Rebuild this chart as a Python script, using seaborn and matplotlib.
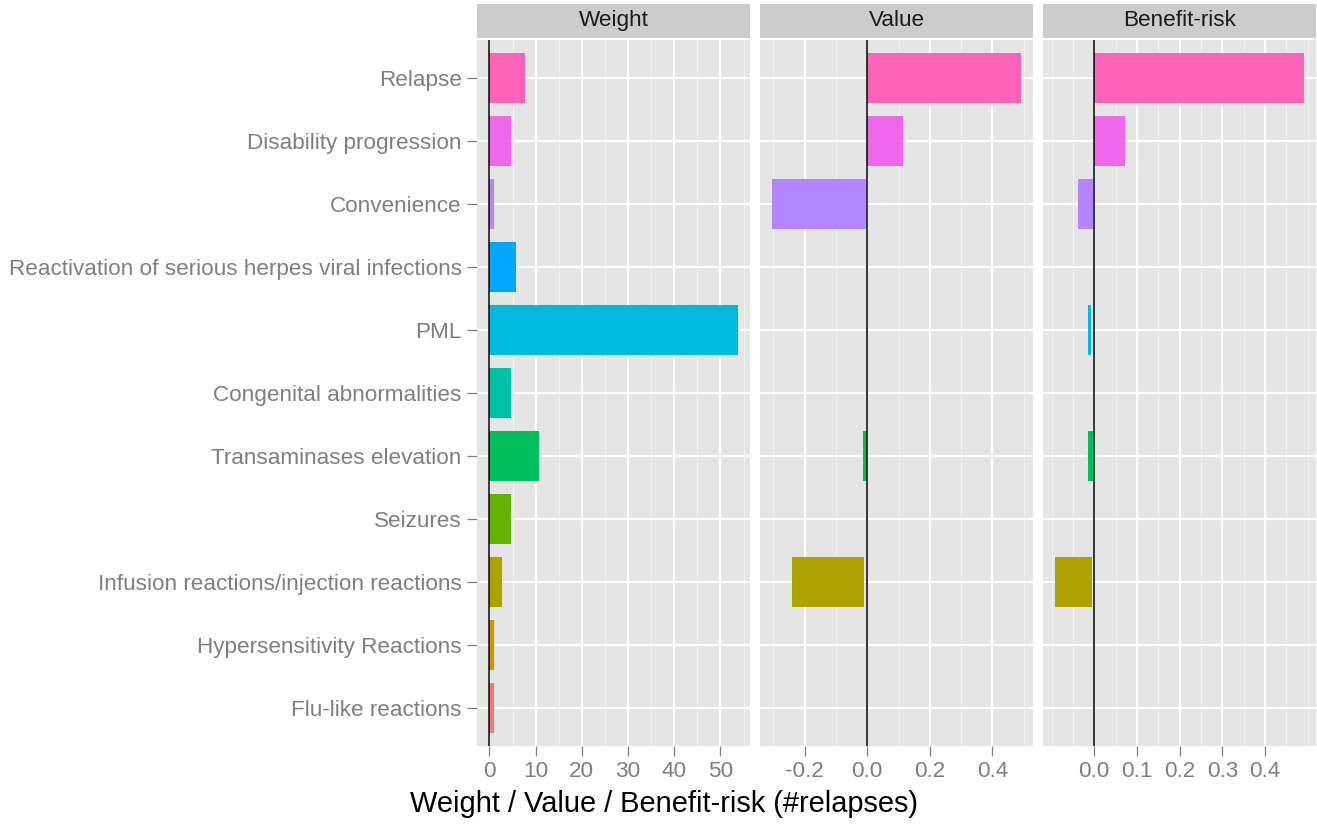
import matplotlib.pyplot as plt
import pandas as pd
import seaborn as sns
from matplotlib.patches import Rectangle

# Data (top row first)
criteria = ["Relapse", "Disability progression", "Convenience",
            "Reactivation of serious herpes viral infections", "PML",
            "Congenital abnormalities", "Transaminases elevation", "Seizures",
            "Infusion reactions/injection reactions", "Hypersensitivity Reactions",
            "Flu-like reactions"]
weight = [7.8, 4.7, 1.0, 5.8, 53.7, 4.7, 10.8, 4.7, 2.8, 1.0, 1.0]
value_start = [0, 0, -0.303, 0, 0, 0, -0.015, 0, -0.241, 0, 0]
value_end = [0.49, 0.113, -0.005, 0, 0, 0, -0.002, 0, -0.009, 0, 0]
br_start = [0, 0, -0.038, 0, -0.014, 0, -0.014, 0, -0.091, 0, 0]
br_end = [0.49, 0.072, -0.002, 0, -0.007, 0, -0.002, 0, -0.006, 0, 0]

panels = ["Weight", "Value", "Benefit-risk"]
colours = ["#FF63B6", "#EF67EB", "#B385FF", "#00A6FF", "#00BADE", "#00C1A7",
           "#00BD5C", "#64B200", "#AEA200", "#DB8E00", "#F8766D"]

major_ticks = {"Weight": [0, 10, 20, 30, 40, 50],
               "Value": [-0.2, 0.0, 0.2, 0.4],
               "Benefit-risk": [0.0, 0.1, 0.2, 0.3, 0.4]}
minor_ticks = {"Weight": [5, 15, 25, 35, 45, 55],
               "Value": [-0.3, -0.1, 0.1, 0.3, 0.5],
               "Benefit-risk": [-0.1, -0.05, 0.05, 0.15, 0.25, 0.35, 0.45, 0.5]}
tick_labels = {"Weight": ["0", "10", "20", "30", "40", "50"],
               "Value": ["-0.2", "0.0", "0.2", "0.4"],
               "Benefit-risk": ["0.0", "0.1", "0.2", "0.3", "0.4"]}

# long table for the facets
n = len(criteria)
pos = [n - 1 - i for i in range(n)]
df = pd.concat([
    pd.DataFrame({"panel": "Weight", "criterion": criteria, "pos": pos,
                  "start": [0] * n, "end": weight, "colour": colours}),
    pd.DataFrame({"panel": "Value", "criterion": criteria, "pos": pos,
                  "start": value_start, "end": value_end, "colour": colours}),
    pd.DataFrame({"panel": "Benefit-risk", "criterion": criteria, "pos": pos,
                  "start": br_start, "end": br_end, "colour": colours}),
])

sns.set_theme(style="darkgrid", rc={
    "axes.facecolor": "#E5E5E5",
    "axes.edgecolor": "none",
    "figure.facecolor": "white",
    "xtick.color": "#7F7F7F",
    "ytick.color": "#7F7F7F",
})
plt.rcParams["font.family"] = ["Liberation Sans", "DejaVu Sans"]


def range_bars(data, **kws):
    ax = plt.gca()
    ax.barh(data["pos"], data["end"] - data["start"], left=data["start"],
            height=0.8, color=data["colour"], linewidth=0, zorder=2)
    ax.axvline(0, color="black", linewidth=1.1, zorder=3)


g = sns.FacetGrid(df, col="panel", col_order=panels, sharex=False, sharey=True,
                  height=8.25, aspect=0.5)
g.map_dataframe(range_bars)
g.figure.set_size_inches(13.17, 8.25)
g.figure.subplots_adjust(left=0.3622, right=0.9992, bottom=0.0958, top=0.9515,
                         wspace=0.0366)

for ax, name in zip(g.axes.flat, panels):
    sub = df[df["panel"] == name]
    lo = min(sub["start"].min(), sub["end"].min())
    hi = max(sub["start"].max(), sub["end"].max())
    pad = (hi - lo) * 0.05
    ax.set_xlim(lo - pad, hi + pad)
    ax.set_ylim(-0.6, n - 0.4)
    ax.set_xticks(major_ticks[name])
    ax.set_xticklabels(tick_labels[name])
    ax.set_xticks(minor_ticks[name], minor=True)
    ax.set_yticks(pos)
    ax.set_yticklabels(criteria)
    ax.grid(which="major", color="white", linewidth=1.5, zorder=0)
    ax.grid(which="minor", axis="x", color="#F2F2F2", linewidth=0.8, zorder=0)
    ax.set_axisbelow(True)
    ax.tick_params(which="major", axis="x", bottom=True, length=7, width=0.9,
                   color="#7F7F7F", labelsize=16.2, labelcolor="#7F7F7F", pad=4)
    ax.tick_params(which="minor", length=0)
    ax.tick_params(axis="y", left=True, length=7, width=0.9, color="#7F7F7F",
                   labelsize=16.2, labelcolor="#7F7F7F", pad=4)
    ax.set_xlabel("")
    ax.set_ylabel("")
    ax.set_title("")
    # facet strip
    ax.add_patch(Rectangle((0, 1.003), 1, 0.048, transform=ax.transAxes,
                           facecolor="#CCCCCC", edgecolor="none", clip_on=False))
    ax.text(0.5, 1.027, name, transform=ax.transAxes, ha="center", va="center",
            fontsize=16.2, color="#1A1A1A")

for ax in g.axes.flat[1:]:
    ax.tick_params(axis="y", left=False, labelleft=False)

g.figure.text(0.504, 0.026, "Weight / Value / Benefit-risk (#relapses)",
              ha="center", va="center", fontsize=20.9, color="black")

g.figure.savefig("out.png", dpi=100)
